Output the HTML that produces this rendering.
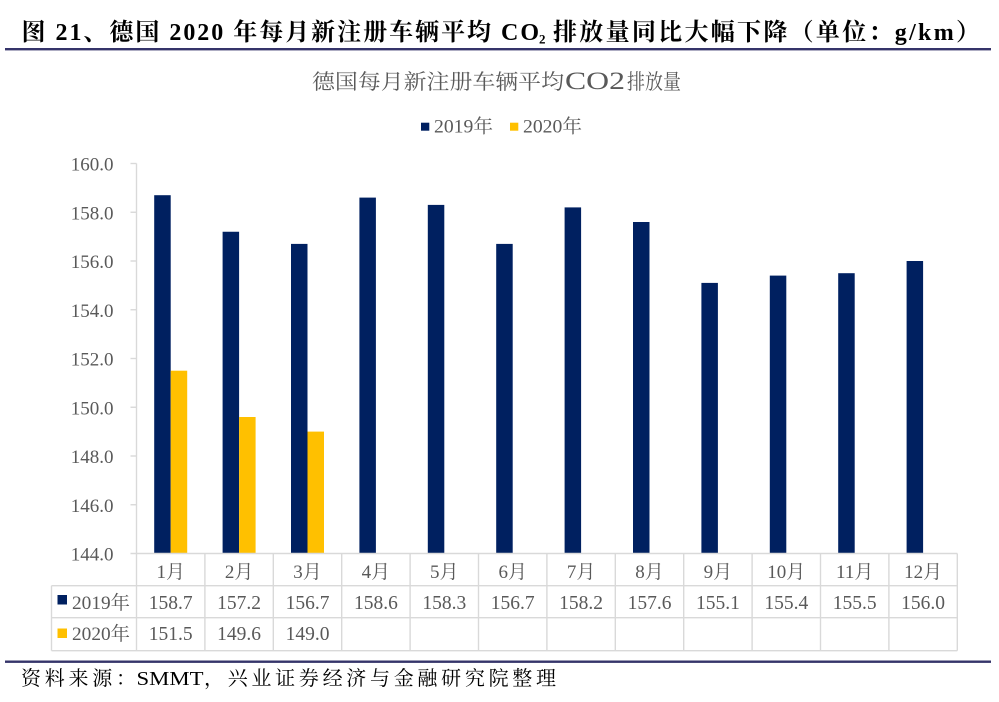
<!DOCTYPE html>
<html>
<head>
<meta charset="utf-8">
<style>
  html, body { margin: 0; padding: 0; background: #ffffff; }
  svg { display: block; }
</style>
</head>
<body>
<svg width="999" height="702" viewBox="0 0 999 702" xmlns="http://www.w3.org/2000/svg" font-family="'Liberation Serif', 'Noto Serif CJK SC', serif">
  <rect x="0" y="0" width="999" height="702" fill="#ffffff"/>

  <!-- Main title -->
  <text font-family="'Liberation Serif', 'Noto Serif CJK SC', serif" x="21.5" y="40" font-size="24" font-weight="bold" fill="#000" textLength="517.5" lengthAdjust="spacing">图 21、德国 2020 年每月新注册车辆平均 CO</text>
  <text font-family="'Liberation Serif', serif" x="539" y="43.5" font-size="13" font-weight="bold" fill="#000">2</text>
  <text font-family="'Liberation Serif', 'Noto Serif CJK SC', serif" x="553" y="40" font-size="24" font-weight="bold" fill="#000" textLength="427" lengthAdjust="spacing">排放量同比大幅下降（单位：g/km）</text>
  <rect x="5" y="48" width="986" height="2.4" fill="#35346a"/>

  <!-- Chart title -->
  <text font-family="'Noto Serif CJK SC', serif" x="312" y="89" font-size="21" fill="#595959" textLength="252" lengthAdjust="spacingAndGlyphs">德国每月新注册车辆平均</text>
  <text font-family="'Liberation Serif', serif" x="565" y="89" font-size="25" fill="#595959" textLength="60" lengthAdjust="spacingAndGlyphs">CO2</text>
  <text font-family="'Noto Serif CJK SC', serif" x="627" y="89" font-size="21" fill="#595959" textLength="54" lengthAdjust="spacingAndGlyphs">排放量</text>

  <!-- Legend -->
  <rect x="421" y="122.7" width="8.3" height="8" fill="#002060"/>
  <text font-family="'Liberation Serif', 'Noto Serif CJK SC', serif" x="434" y="132.5" font-size="19" fill="#595959" textLength="59" lengthAdjust="spacingAndGlyphs">2019年</text>
  <rect x="510" y="122.7" width="8.3" height="8" fill="#FFC000"/>
  <text font-family="'Liberation Serif', 'Noto Serif CJK SC', serif" x="523" y="132.5" font-size="19" fill="#595959" textLength="59" lengthAdjust="spacingAndGlyphs">2020年</text>

  <!-- Y axis -->
  <g stroke="#d9d9d9" stroke-width="1.4">
    <line x1="136.5" y1="163.5" x2="136.5" y2="553.5"/>
    <line x1="130.5" y1="163.5" x2="136.5" y2="163.5"/>
    <line x1="130.5" y1="212.25" x2="136.5" y2="212.25"/>
    <line x1="130.5" y1="261" x2="136.5" y2="261"/>
    <line x1="130.5" y1="309.75" x2="136.5" y2="309.75"/>
    <line x1="130.5" y1="358.5" x2="136.5" y2="358.5"/>
    <line x1="130.5" y1="407.25" x2="136.5" y2="407.25"/>
    <line x1="130.5" y1="456" x2="136.5" y2="456"/>
    <line x1="130.5" y1="504.75" x2="136.5" y2="504.75"/>
  </g>
  <g font-family="'Liberation Serif', serif" font-size="19" fill="#595959" text-anchor="end">
    <text x="113.5" y="170.5">160.0</text>
    <text x="113.5" y="219.25">158.0</text>
    <text x="113.5" y="268">156.0</text>
    <text x="113.5" y="316.75">154.0</text>
    <text x="113.5" y="365.5">152.0</text>
    <text x="113.5" y="414.25">150.0</text>
    <text x="113.5" y="463">148.0</text>
    <text x="113.5" y="511.75">146.0</text>
    <text x="113.5" y="560.5">144.0</text>
  </g>

  <!-- Bars 2019 -->
  <g fill="#002060">
    <rect x="154.2" y="195.2" width="16.5" height="358.3"/>
    <rect x="222.6" y="231.75" width="16.5" height="321.75"/>
    <rect x="291.0" y="243.9" width="16.5" height="309.6"/>
    <rect x="359.4" y="197.6" width="16.5" height="355.9"/>
    <rect x="427.8" y="204.9" width="16.5" height="348.6"/>
    <rect x="496.2" y="243.9" width="16.5" height="309.6"/>
    <rect x="564.6" y="207.4" width="16.5" height="346.1"/>
    <rect x="633.0" y="222.0" width="16.5" height="331.5"/>
    <rect x="701.4" y="282.9" width="16.5" height="270.6"/>
    <rect x="769.8" y="275.6" width="16.5" height="277.9"/>
    <rect x="838.2" y="273.2" width="16.5" height="280.3"/>
    <rect x="906.6" y="261.0" width="16.5" height="292.5"/>
  </g>
  <!-- Bars 2020 -->
  <g fill="#FFC000">
    <rect x="170.7" y="370.7" width="16.5" height="182.8"/>
    <rect x="239.1" y="417.0" width="16.5" height="136.5"/>
    <rect x="307.5" y="431.6" width="16.5" height="121.9"/>
  </g>

  <!-- Data table grid -->
  <g stroke="#d9d9d9" stroke-width="1.4" fill="none">
    <line x1="130.5" y1="553.5" x2="957.3" y2="553.5"/>
    <line x1="51.5" y1="585.7" x2="957.3" y2="585.7"/>
    <line x1="51.5" y1="617.7" x2="957.3" y2="617.7"/>
    <line x1="51.5" y1="650.7" x2="957.3" y2="650.7"/>
    <line x1="51.5" y1="585.7" x2="51.5" y2="650.7"/>
    <line x1="136.5" y1="553.5" x2="136.5" y2="650.7"/>
    <line x1="204.9" y1="553.5" x2="204.9" y2="650.7"/>
    <line x1="273.3" y1="553.5" x2="273.3" y2="650.7"/>
    <line x1="341.7" y1="553.5" x2="341.7" y2="650.7"/>
    <line x1="410.1" y1="553.5" x2="410.1" y2="650.7"/>
    <line x1="478.5" y1="553.5" x2="478.5" y2="650.7"/>
    <line x1="546.9" y1="553.5" x2="546.9" y2="650.7"/>
    <line x1="615.3" y1="553.5" x2="615.3" y2="650.7"/>
    <line x1="683.7" y1="553.5" x2="683.7" y2="650.7"/>
    <line x1="752.1" y1="553.5" x2="752.1" y2="650.7"/>
    <line x1="820.5" y1="553.5" x2="820.5" y2="650.7"/>
    <line x1="888.9" y1="553.5" x2="888.9" y2="650.7"/>
    <line x1="957.3" y1="553.5" x2="957.3" y2="650.7"/>
  </g>

  <!-- Month labels -->
  <g font-family="'Liberation Serif', 'Noto Serif CJK SC', serif" font-size="19" fill="#595959" text-anchor="middle">
    <text x="170.7" y="578">1月</text>
    <text x="239.1" y="578">2月</text>
    <text x="307.5" y="578">3月</text>
    <text x="375.9" y="578">4月</text>
    <text x="444.3" y="578">5月</text>
    <text x="512.7" y="578">6月</text>
    <text x="581.1" y="578">7月</text>
    <text x="649.5" y="578">8月</text>
    <text x="717.9" y="578">9月</text>
    <text x="786.3" y="578">10月</text>
    <text x="854.7" y="578">11月</text>
    <text x="923.1" y="578">12月</text>
  </g>

  <!-- Row labels -->
  <rect x="57.5" y="595" width="9.5" height="9.5" fill="#002060"/>
  <text font-family="'Liberation Serif', 'Noto Serif CJK SC', serif" x="72" y="609" font-size="19" fill="#595959" textLength="58" lengthAdjust="spacingAndGlyphs">2019年</text>
  <rect x="57.5" y="628.5" width="9.5" height="9.5" fill="#FFC000"/>
  <text font-family="'Liberation Serif', 'Noto Serif CJK SC', serif" x="72" y="640" font-size="19" fill="#595959" textLength="58" lengthAdjust="spacingAndGlyphs">2020年</text>

  <!-- 2019 values -->
  <g font-family="'Liberation Serif', serif" font-size="19.5" fill="#595959" text-anchor="middle">
    <text x="170.7" y="609">158.7</text>
    <text x="239.1" y="609">157.2</text>
    <text x="307.5" y="609">156.7</text>
    <text x="375.9" y="609">158.6</text>
    <text x="444.3" y="609">158.3</text>
    <text x="512.7" y="609">156.7</text>
    <text x="581.1" y="609">158.2</text>
    <text x="649.5" y="609">157.6</text>
    <text x="717.9" y="609">155.1</text>
    <text x="786.3" y="609">155.4</text>
    <text x="854.7" y="609">155.5</text>
    <text x="923.1" y="609">156.0</text>
  </g>
  <!-- 2020 values -->
  <g font-family="'Liberation Serif', serif" font-size="19.5" fill="#595959" text-anchor="middle">
    <text x="170.7" y="640">151.5</text>
    <text x="239.1" y="640">149.6</text>
    <text x="307.5" y="640">149.0</text>
  </g>

  <!-- Footer -->
  <rect x="5" y="660.5" width="986" height="2.4" fill="#35346a"/>
  <text font-family="'Noto Serif CJK SC', serif" x="21" y="685" font-size="20" fill="#000" textLength="115" lengthAdjust="spacing">资料来源：</text>
  <text font-family="'Liberation Serif', serif" x="136.5" y="685" font-size="20" fill="#000" textLength="67" lengthAdjust="spacingAndGlyphs">SMMT</text>
  <text font-family="'Noto Serif CJK SC', serif" x="204" y="685" font-size="20" fill="#000" textLength="352" lengthAdjust="spacing">，兴业证券经济与金融研究院整理</text>
</svg>
</body>
</html>
